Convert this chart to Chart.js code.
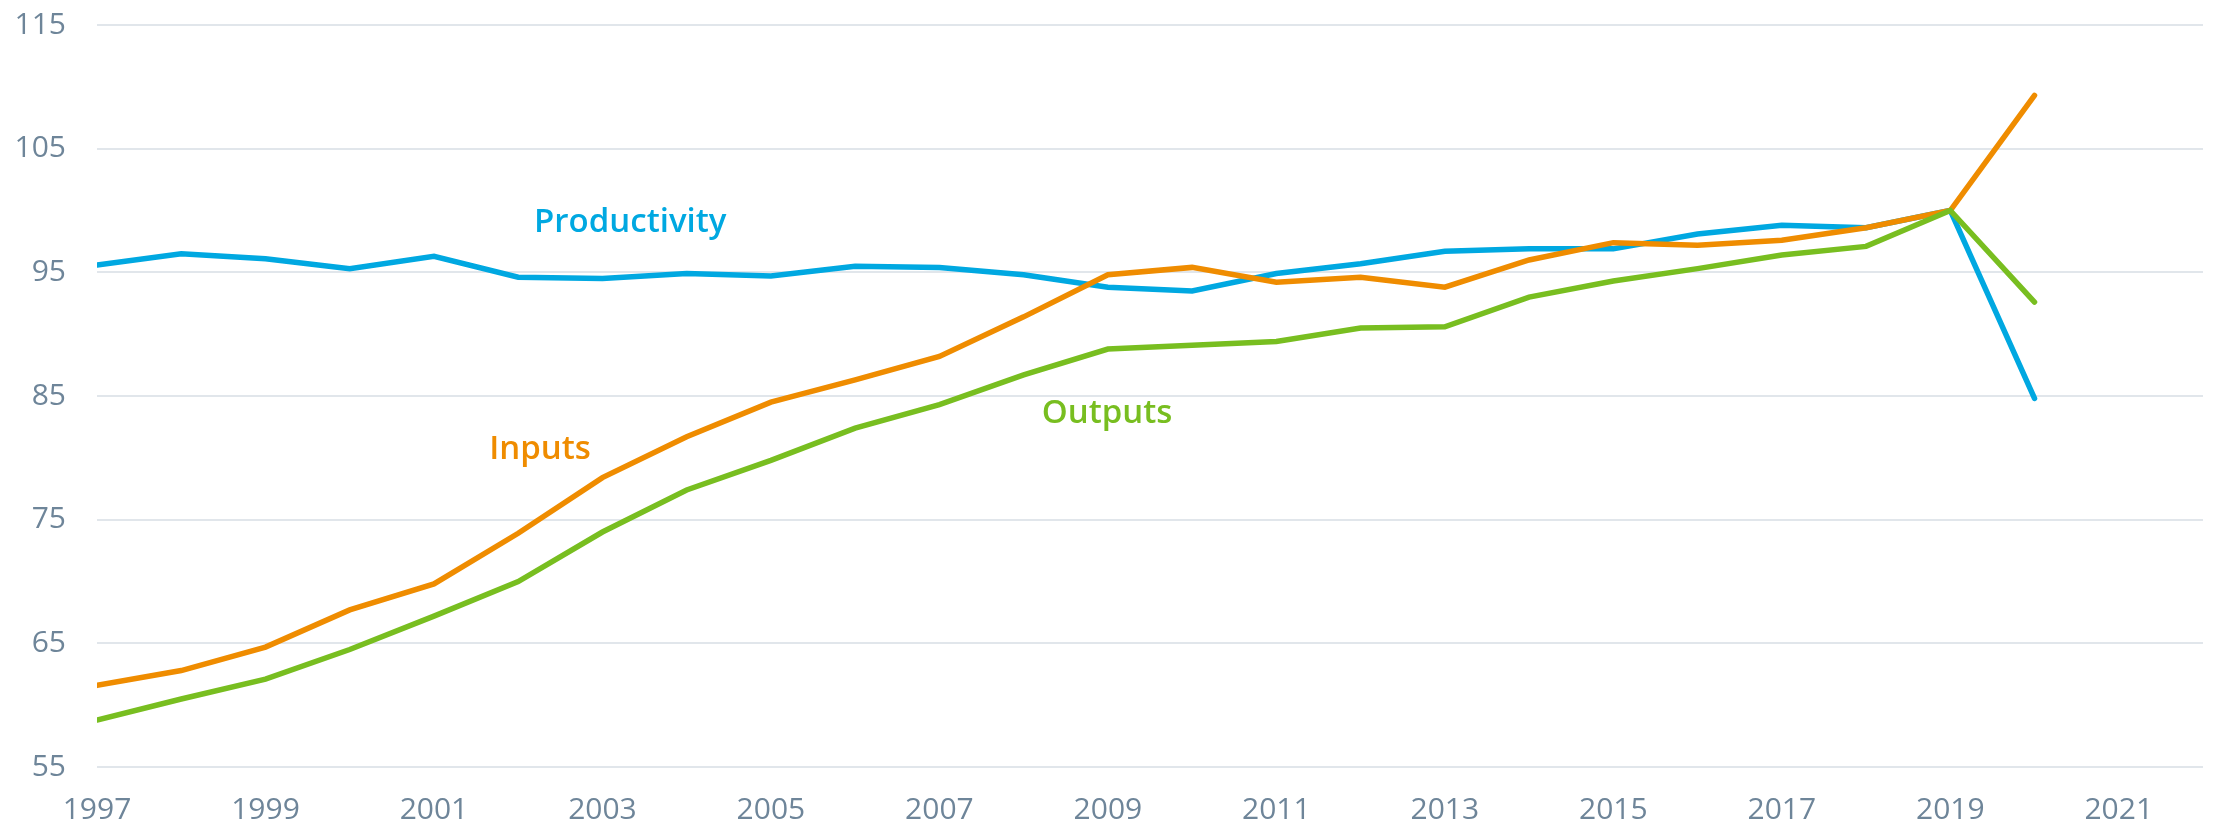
<!DOCTYPE html>
<html>
<head>
<meta charset="utf-8">
<title>Productivity, inputs and outputs</title>
<script src="https://cdn.jsdelivr.net/npm/chart.js@4.4.1/dist/chart.umd.min.js"></script>
<style>
    body { margin: 0; background: #fff; }
    #wrap { width: 2216px; height: 829px; position: relative; }
</style>
</head>
<body>
<div id="wrap"><canvas id="lineChart"></canvas></div>
<script>
// datos (índice, 2019 = 100)
const years = [1997, 1998, 1999, 2000, 2001, 2002, 2003, 2004, 2005, 2006, 2007, 2008,
    2009, 2010, 2011, 2012, 2013, 2014, 2015, 2016, 2017, 2018, 2019, 2020];

const productivity = [95.6, 96.5, 96.1, 95.3, 96.3, 94.6, 94.5, 94.9, 94.7, 95.5, 95.4, 94.8,
    93.8, 93.5, 94.9, 95.7, 96.7, 96.9, 96.9, 98.1, 98.8, 98.6, 100, 84.8];

const inputs = [61.6, 62.8, 64.7, 67.7, 69.8, 73.9, 78.4, 81.7, 84.5, 86.3, 88.2, 91.4,
    94.8, 95.4, 94.2, 94.6, 93.8, 96.0, 97.4, 97.2, 97.6, 98.6, 100, 109.3];

const outputs = [58.8, 60.5, 62.1, 64.5, 67.2, 70.0, 74.0, 77.4, 79.8, 82.4, 84.3, 86.7,
    88.8, 89.1, 89.4, 90.5, 90.6, 93.0, 94.3, 95.3, 96.4, 97.1, 100, 92.6];

const xTicks = [1997, 1999, 2001, 2003, 2005, 2007, 2009, 2011, 2013, 2015, 2017, 2019, 2021];
const yTicks = [55, 65, 75, 85, 95, 105, 115];

const BLUE = '#00a8e1';
const ORANGE = '#ef8c00';
const GREEN = '#78be20';

// etiquetas de las series: [texto, año, valor, color]
const seriesLabels = [
    ['Productivity', 2003.33, 98.25, BLUE],
    ['Inputs', 2002.26, 79.9, ORANGE],
    ['Outputs', 2008.99, 82.8, GREEN],
];

const ctx = document.getElementById('lineChart').getContext('2d');

const toPoints = values => values.map((v, i) => ({ x: years[i], y: v }));

const labelPlugin = {
    id: 'seriesLabels',
    afterDatasetsDraw(chart) {
        const c = chart.ctx;
        const x = chart.scales.x;
        const y = chart.scales.y;
        c.save();
        c.font = '600 33px "Open Sans"';
        c.textAlign = 'center';
        c.textBaseline = 'alphabetic';
        seriesLabels.forEach(l => {
            c.fillStyle = l[3];
            c.fillText(l[0], x.getPixelForValue(l[1]), y.getPixelForValue(l[2]));
        });
        c.restore();
    }
};

const lineDataset = (label, values, color) => ({
    label: label,
    data: toPoints(values),
    borderColor: color,
    backgroundColor: color,
    borderWidth: 5.5,
    borderCapStyle: 'round',
    pointRadius: 0,
    tension: 0,
    fill: false,
});

new Chart(ctx, {
    type: 'line',
    data: {
        datasets: [
            lineDataset('Outputs', outputs, GREEN),
            lineDataset('Inputs', inputs, ORANGE),
            lineDataset('Productivity', productivity, BLUE),
        ],
    },
    options: {
        responsive: true,
        maintainAspectRatio: false,
        animation: false,
        layout: { padding: { top: 25, right: 13, left: 0, bottom: 0 } },
        plugins: {
            legend: { display: false },
            tooltip: { enabled: false },
        },
        scales: {
            x: {
                type: 'linear',
                min: 1997,
                max: 2022,
                grid: { display: false },
                border: { display: false },
                afterBuildTicks: axis => {
                    axis.ticks = xTicks.map(v => ({ value: v }));
                },
                afterFit: axis => {
                    axis.height = 62;
                },
                ticks: {
                    color: '#6e8599',
                    font: { family: 'Open Sans', size: 30 },
                    padding: 17,
                    maxRotation: 0,
                    autoSkip: false,
                    callback: v => String(v),
                },
            },
            y: {
                min: 55,
                max: 115,
                grid: { color: '#e1e6eb', lineWidth: 2, drawTicks: false },
                border: { display: false },
                afterBuildTicks: axis => {
                    axis.ticks = yTicks.map(v => ({ value: v }));
                },
                afterFit: axis => {
                    axis.width = 97;
                    axis.paddingTop = 0;
                    axis.paddingBottom = 0;
                },
                ticks: {
                    color: '#6e8599',
                    font: { family: 'Open Sans', size: 30 },
                    padding: 31,
                },
            },
        },
    },
    plugins: [labelPlugin],
});
</script>
</body>
</html>
